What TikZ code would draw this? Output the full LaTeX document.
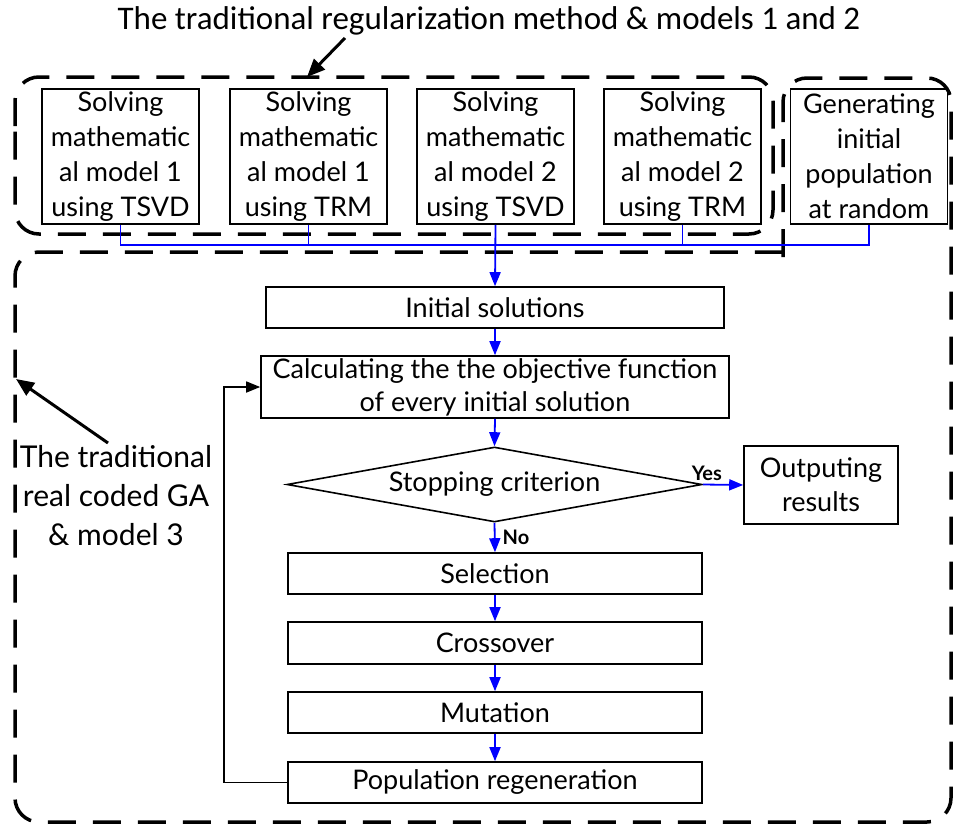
\documentclass[tikz,border=0pt]{standalone}
\usepackage{fontspec}
\setmainfont{Lato}
\newfontfamily\titlefont{Carlito}
\usetikzlibrary{arrows.meta,shapes.geometric}
\begin{document}
\begin{tikzpicture}[x=1pt,y=-1pt,
  txt/.style={font=\fontsize{27}{35}\selectfont},
  tbox/.style={draw, line width=1.6pt, inner sep=0pt, align=center, txt,
    minimum width=157pt, minimum height=135pt},
  fbox/.style={draw, line width=1.6pt, inner sep=0pt, align=center, txt},
  bl/.style={draw=blue, line width=1.8pt},
  barrow/.style={bl, -{Triangle[length=14pt,width=11pt]}},
  karrow/.style={draw=black, line width=1.6pt, -{Triangle[length=14pt,width=11pt]}},
  annarrow/.style={draw=black, line width=3pt, -{Triangle[length=18pt,width=15pt]}},
  grp/.style={draw=black, line width=3.5pt, dash pattern=on 28pt off 17pt, rounded corners=24pt},
  lbl/.style={font=\fontsize{20}{22}\selectfont\bfseries, inner sep=0pt}
]
\useasboundingbox (0,0) rectangle (953,825);

% title and annotation
\node[font=\titlefont\fontsize{33}{36}\selectfont, inner sep=0pt] (title) at (489,21) {The traditional regularization method \& models 1 and 2};
\coordinate (ta) at (345,38);
\coordinate (tb) at (307,77);
\draw[annarrow] (ta) -- (tb);

% dashed groups
\draw[grp] (15,150) |- (773,77) |- (15,234) -- cycle;
\draw[grp] (783,257) -- (783,78) -- (951,78) -- (951,822) -- (15,822) -- (15,252) -- (783,252);

% top boxes
\node[tbox] (b1) at (120.5,156.5) {Solving\\mathematic\\al model 1\\using TSVD};
\node[tbox] (b2) at (308.5,156.5) {Solving\\mathematic\\al model 1\\using TRM};
\node[tbox] (b3) at (495.5,156.5) {Solving\\mathematic\\al model 2\\using TSVD};
\node[tbox] (b4) at (682.5,156.5) {Solving\\mathematic\\al model 2\\using TRM};
\node[tbox] (gen) at (869,156.5) {Generating\\initial\\population\\at random};

% flow boxes
\node[fbox, minimum width=458pt, minimum height=41pt] (init) at (495,307.5) {Initial solutions};
\node[fbox, minimum width=468pt, minimum height=62pt, font=\fontsize{27}{33}\selectfont] (calc) at (495,387) {Calculating the the objective function\\of every initial solution};
\node[draw, line width=1.6pt, diamond, aspect=5.5, inner sep=0pt, minimum width=415pt, minimum height=75pt, txt] (dia) at (494.5,484.5) {Stopping criterion};
\node[fbox, minimum width=154pt, minimum height=78pt, font=\fontsize{27}{34}\selectfont] (out) at (821,485) {Outputing\\results};
\node[fbox, minimum width=414pt, minimum height=41pt] (sel) at (495,573.5) {Selection};
\node[fbox, minimum width=414pt, minimum height=42pt] (cro) at (495,643) {Crossover};
\node[fbox, minimum width=414pt, minimum height=41pt] (mut) at (495,712.5) {Mutation};
\node[fbox, minimum width=414pt, minimum height=41pt] (pop) at (495,782.5) {Population regeneration};

% left annotation
\node[align=center, inner sep=0pt, font=\fontsize{30}{39}\selectfont] (ga) at (116,496) {The traditional\\real coded GA\\\& model 3};
\coordinate (ga1) at (108,443);
\coordinate (ga2) at (16,379);
\draw[annarrow] (ga1) -- (ga2);

% bus connectors
\coordinate (bus) at (0,245);
\draw[bl] (b1.south) |- (bus -| gen.south) -- (gen.south);
\draw[bl] (b2.south) -- (b2.south |- bus);
\draw[bl] (b4.south) -- (b4.south |- bus);
\draw[barrow] (b3.south) -- (init.north);

% flow arrows
\draw[barrow] (init.south) -- (calc.north);
\draw[barrow] (calc.south) -- (dia.north);
\draw[barrow] (dia.east) -- (out.west) node[lbl, pos=0.1, above=3pt] {Yes};
\draw[barrow] (dia.south) -- (sel.north) node[lbl, midway, right=7pt] {No};
\draw[barrow] (sel.south) -- (cro.north);
\draw[barrow] (cro.south) -- (mut.north);
\draw[barrow] (mut.south) -- (pop.north);
\coordinate (loop) at (224,0);
\draw[karrow] (pop.west) -| (loop |- pop.west) |- (calc.west);
\end{tikzpicture}
\end{document}
